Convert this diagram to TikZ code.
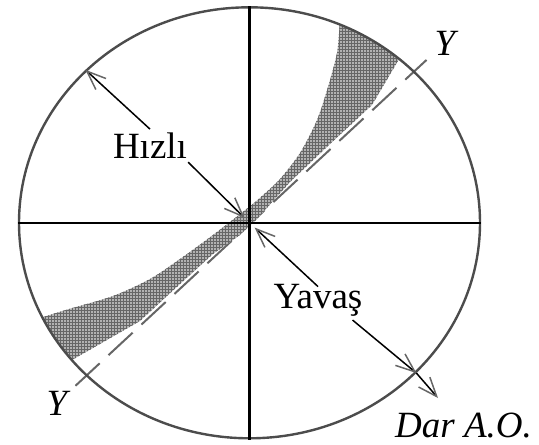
\documentclass[tikz,border=0pt]{standalone}
\usepackage{fontspec}
\setmainfont{Liberation Serif}
\usetikzlibrary{
    arrows.meta,
    calc,
    shapes.geometric,
    patterns
}
\tikzset{
    % --- Outer ellipse (the whole section) ---
    rim/.style = {
        ellipse, draw=black!70, line width=2.4pt,
        minimum width=461pt, minimum height=431pt,
        inner sep=0pt
    },
    % --- Main cross lines ---
    axis line/.style = {
        line width=2.6pt, black
    },
    % --- Y-Y trace ---
    yy line/.style = {
        draw=black!60, line width=2pt,
        dash pattern=on 33pt off 12pt
    },
    % --- Shaded band ---
    band/.style = {
        fill=black!30,
        postaction={pattern=grid, pattern color=black!60}
    },
    % --- Pointer arrow with open barbs ---
    pointer/.style = {
        -{Straight Barb[length=19pt, width=15pt, line width=1.5pt, color=black!60]},
        line width=1.5pt
    },
    % --- Word label ---
    word/.style = {
        font=\fontsize{37}{40}\selectfont,
        inner sep=0pt, anchor=base
    },
    % --- Italic axis label ---
    axis label/.style = {
        word, font=\fontsize{37}{40}\selectfont\itshape,
        inner sep=8pt
    }
}

\begin{document}
\begin{tikzpicture}[x=1pt, y=-1pt]

\useasboundingbox (0,0) rectangle (539,445);

% ---------------------------------------------------------
% Y-Y line
% ---------------------------------------------------------
\node[axis label] (YLow) at (57,415) {Y};
\node[axis label] (YUp)  at (445,55) {Y};
\draw[yy line] (YLow) -- (YUp);

% ---------------------------------------------------------
% Shaded band
% ---------------------------------------------------------
\fill[band]
    plot[smooth] coordinates {(42.3,317.3) (69,309) (113,296) (150,279)
        (180,259) (213,235) (249,207) (262,196) (280,179) (300,153)
        (317,120) (328,87) (337,53) (339.6,24.4)}
    -- plot[domain=67:49.5, variable=\t] ({249.5+230.5*cos(\t)},{222.8-215.5*sin(\t)})
    -- (372,105) -- (330,144) -- (290,182) -- (258,218) -- (240,235)
    -- (213,254) -- (180,284) -- (140,321) -- (72,360)
    -- plot[domain=219.6:206, variable=\t] ({249.5+230.5*cos(\t)},{222.8-215.5*sin(\t)})
    -- cycle;

% ---------------------------------------------------------
% Ellipse and cross
% ---------------------------------------------------------
\node[rim] (E) at (249.5,222.8) {};
\coordinate (C) at (E.center);
\draw[axis line] (E.west) -- (E.east);
\draw[axis line] (E.north) -- (E.south);

% ---------------------------------------------------------
% Labels
% ---------------------------------------------------------
\node[word] (Hizli) at (150,158) {Hızlı};
\node[word] (Yavas) at (318,308) {Yavaş};
\node[word, font=\fontsize{37}{40}\selectfont\itshape] (DarAO) at (463.5,437) {Dar A.O.};
\coordinate (DarTip) at (438,398);

% ---------------------------------------------------------
% Pointers
% ---------------------------------------------------------
\draw[pointer] ($(Hizli.north)+(0,-3)$) -- (E.137.5);
\draw[pointer, shorten >=7pt] ($(Hizli.south east)+(1,4)$) -- (C);
\draw[pointer, shorten >=7pt] ($(Yavas.north)+(0,3)$) -- (C);
\draw[pointer] ($(Yavas.south east)+(-10,4)$) -- (E.-42.8);
\draw[pointer] (E.-42.8) -- (DarTip);

\end{tikzpicture}
\end{document}
